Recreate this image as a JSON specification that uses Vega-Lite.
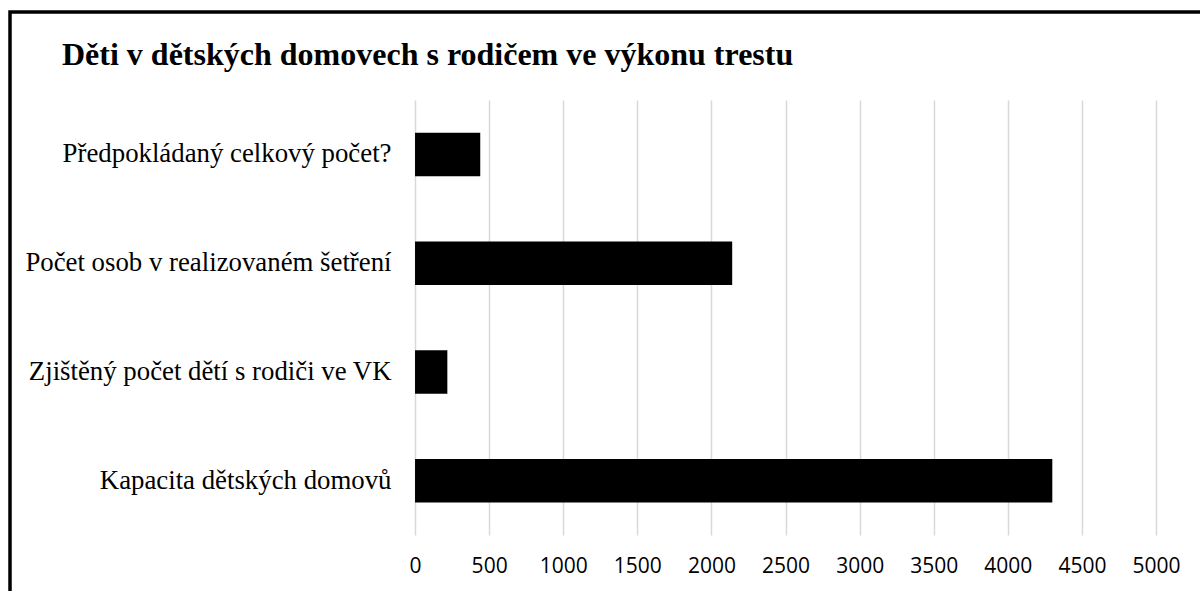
{
  "$schema": "https://vega.github.io/schema/vega-lite/v6.json",
  "autosize": {"type": "none"},
  "padding": {"left": 10, "top": 12, "right": 0, "bottom": 0},
  "width": 1200,
  "height": 611,
  "background": "white",
  "title": {
    "text": "Děti v dětských domovech s rodičem ve výkonu trestu",
    "anchor": "start",
    "font": "Liberation Serif",
    "fontSize": 32,
    "fontWeight": "bold",
    "color": "black",
    "orient": "top",
    "frame": "group",
    "offset": 0,
    "baseline": "alphabetic",
    "dx": 52,
    "dy": 85
  },
  "config": {"view": {"stroke": "black", "strokeWidth": 3.5}},
  "data": {
    "values": [
      {"kategorie": "Předpokládaný celkový počet?", "pocet": 440},
      {"kategorie": "Počet osob v realizovaném šetření", "pocet": 2140},
      {"kategorie": "Zjištěný počet dětí s rodiči ve VK", "pocet": 218},
      {"kategorie": "Kapacita dětských domovů", "pocet": 4300}
    ]
  },
  "mark": {"type": "bar", "color": "black"},
  "encoding": {
    "y": {
      "field": "kategorie",
      "type": "nominal",
      "sort": null,
      "scale": {"range": [88, 523], "paddingInner": 0.6, "paddingOuter": 0.3},
      "axis": {
        "title": null,
        "orient": "left",
        "offset": -405,
        "ticks": false,
        "domain": false,
        "grid": false,
        "labelFont": "Liberation Serif",
        "labelFontSize": 26.8,
        "labelColor": "black",
        "labelPadding": 24,
        "labelLimit": 0
      }
    },
    "x": {
      "field": "pocet",
      "type": "quantitative",
      "scale": {"domain": [-2733, 5364], "nice": false, "zero": false},
      "axis": {
        "title": null,
        "values": [0, 500, 1000, 1500, 2000, 2500, 3000, 3500, 4000, 4500, 5000],
        "format": "d",
        "offset": -88,
        "ticks": false,
        "domain": false,
        "grid": true,
        "gridColor": "#d9d9d9",
        "gridWidth": 1.5,
        "labelFont": "Open Sans",
        "labelFontSize": 21,
        "labelColor": "black",
        "labelPadding": 20,
        "labelFlush": false
      }
    }
  }
}
